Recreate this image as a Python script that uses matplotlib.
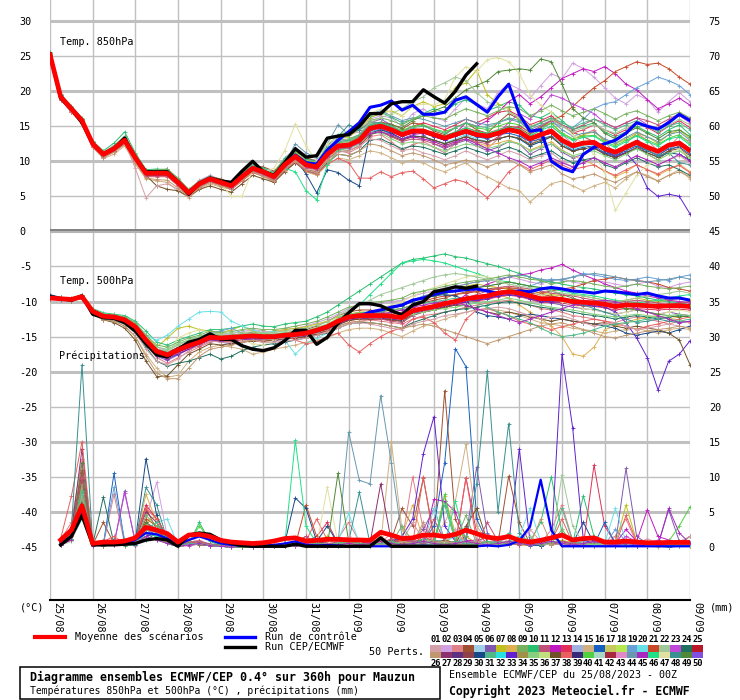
import numpy as np
import matplotlib
matplotlib.use('Agg')
import matplotlib.pyplot as plt
from matplotlib import transforms
from matplotlib.lines import Line2D
from matplotlib.patches import Rectangle

plt.rcParams['font.family'] = ['DejaVu Sans Mono']
plt.rcParams['axes.unicode_minus'] = False

W, H = 740, 700

HOURS = list(range(0, 361, 6))
PRECIP_HOURS = HOURS[1:]
DAY_TICKS = list(range(0, 361, 24))
DATE_LABELS = ["25/08", "26/08", "27/08", "28/08", "29/08", "30/08", "31/08", "01/09",
               "02/09", "03/09", "04/09", "05/09", "06/09", "07/09", "08/09", "09/09"]

PERT_COLORS = [
    '#d4a0a8', '#d0a0e0', '#e08088', '#a05030', '#a0d0e8', '#8058b0', '#c0c020', '#e0b050', '#78b060', '#28c070',
    '#c05078', '#c018c0', '#e03058', '#a0b0e0', '#d0b080', '#1860c0', '#c8c860', '#b8e850', '#68a0d8', '#68e0e8',
    '#c84828', '#a0c898', '#c048d8', '#207060', '#b81828',
    '#c09870', '#8c3070', '#603080', '#904048', '#184888', '#50b888', '#28e0e0', '#6020d0', '#a09048', '#88d080',
    '#c0e080', '#705028', '#e86060', '#382878', '#50d040', '#a8d8c8', '#a82840', '#e088c8', '#6898b0', '#a828c0',
    '#20e088', '#e0e0a0', '#389090', '#508838', '#8050e0']

# perturbations drawn (subset of the 50)
MEMBER_IDS = [2, 3, 4, 6, 7, 8, 10, 12, 13, 15, 16, 19, 20, 21, 23, 24, 27, 30, 33, 37, 38, 40, 44, 46, 47, 48, 49,
              1, 9, 11, 22, 26, 31, 35, 45]

# --- temperature 850 hPa (degC), 6-hourly ---
T850_MEAN = [25.2, 19.2, 17.5, 15.8, 12.5, 11.0, 11.8, 13.0, 10.5, 8.3,
             8.3, 8.3, 7.0, 5.5, 6.8, 7.5, 7.0, 6.5, 7.8, 9.0,
             8.5, 7.8, 9.5, 10.7, 9.5, 9.2, 11.0, 12.2, 12.3, 13.0,
             14.7, 15.0, 14.5, 13.8, 14.3, 14.3, 13.8, 13.3, 13.8, 14.3,
             13.8, 13.6, 14.0, 14.5, 14.2, 13.2, 13.8, 14.3, 13.0, 12.2,
             12.6, 12.7, 11.8, 11.3, 12.0, 12.7, 12.0, 11.4, 12.3, 12.6, 11.5]
T850_CONTROL = [25.3, 19.1, 17.4, 15.8, 12.5, 11.0, 11.8, 13.0, 10.5, 8.4,
                8.4, 8.4, 7.1, 5.6, 6.9, 7.6, 7.1, 6.6, 7.9, 9.1,
                8.6, 7.9, 9.6, 10.9, 9.8, 9.6, 11.6, 13.0, 14.2, 15.5,
                17.7, 18.0, 18.6, 17.3, 18.0, 16.7, 16.7, 17.0, 18.7, 19.2,
                18.1, 17.0, 19.2, 21.0, 16.7, 14.3, 14.5, 10.0, 9.0, 8.5,
                11.0, 12.0, 12.5, 13.0, 14.0, 15.5, 15.0, 14.6, 15.5, 16.7, 15.8]
T850_CEP = [25.3, 19.0, 17.5, 15.5, 12.5, 11.0, 11.8, 13.3, 10.5, 8.5,
            8.5, 8.5, 7.0, 5.3, 6.8, 7.6, 7.2, 7.0, 8.6, 10.0,
            8.5, 8.0, 9.8, 11.8, 10.6, 10.8, 13.3, 13.6, 13.8, 15.0,
            16.8, 16.8, 18.2, 18.5, 18.5, 20.2, 19.2, 18.3, 20.0, 22.3, 23.9]
T850 = [
    [25.5, 19.5, 17.8, 16.0, 12.8, 11.2, 12.3, 13.5, 10.8, 8.6, 8.8, 8.5, 7.2, 5.8, 7.3, 8.0, 7.4, 7.0, 8.5, 9.6,
     9.0, 8.3, 10.5, 11.8, 10.4, 10.2, 12.0, 13.5, 13.8, 14.2, 16.0, 16.5, 16.2, 15.0, 16.8, 17.5, 16.2, 15.8, 17.5, 19.0,
     18.2, 17.5, 19.8, 21.0, 20.3, 19.0, 20.8, 22.5, 21.8, 24.0, 23.2, 22.0, 20.5, 19.0, 18.2, 19.5, 18.8, 17.0, 18.5, 19.8, 18.5],
    [25.0, 18.9, 17.2, 15.5, 12.2, 10.6, 11.4, 12.8, 10.2, 8.0, 8.0, 8.1, 6.8, 5.3, 6.5, 7.3, 6.8, 6.2, 7.5, 8.8,
     8.0, 7.2, 9.0, 10.0, 8.6, 8.3, 10.3, 11.5, 11.2, 12.0, 13.5, 13.8, 12.8, 11.5, 12.4, 12.8, 12.0, 11.2, 12.5, 13.8,
     12.5, 11.8, 13.2, 14.8, 14.0, 12.2, 13.5, 15.0, 13.8, 12.5, 13.8, 14.5, 12.8, 11.0, 12.5, 14.0, 13.0, 11.5, 12.0, 13.6, 12.8],
    [25.4, 19.3, 17.6, 16.0, 12.7, 11.3, 12.0, 13.2, 10.6, 8.5, 8.6, 8.9, 7.5, 5.9, 7.0, 7.8, 7.5, 6.9, 8.2, 9.4,
     9.2, 8.6, 10.2, 11.4, 10.5, 10.0, 11.5, 12.6, 12.8, 13.6, 15.2, 15.6, 15.3, 14.6, 15.5, 15.2, 14.3, 13.8, 14.8, 15.5,
     14.5, 14.0, 15.5, 16.8, 16.0, 14.8, 15.5, 16.2, 15.0, 14.2, 13.5, 12.8, 11.5, 10.6, 11.8, 12.5, 11.0, 10.2, 11.5, 12.2, 10.0],
    [25.1, 19.0, 17.4, 15.9, 12.6, 10.9, 11.6, 12.9, 10.4, 8.4, 8.2, 8.0, 6.8, 5.6, 6.6, 7.2, 6.9, 6.6, 8.0, 9.2,
     8.6, 7.9, 9.8, 11.0, 9.8, 9.6, 11.6, 12.8, 13.0, 13.5, 15.5, 16.0, 15.2, 14.0, 14.5, 13.8, 12.5, 11.8, 12.5, 13.0,
     12.2, 11.5, 12.0, 12.8, 12.5, 11.0, 11.8, 12.5, 11.3, 10.5, 11.0, 11.8, 11.2, 10.5, 11.3, 12.0, 11.5, 10.8, 11.8, 12.5, 11.8],
    [25.3, 19.4, 17.7, 15.8, 12.4, 11.1, 11.9, 13.1, 10.6, 8.2, 8.4, 8.6, 7.1, 5.4, 6.9, 7.8, 7.3, 6.7, 8.1, 9.3,
     8.8, 8.0, 10.0, 11.3, 10.2, 9.8, 11.8, 13.2, 13.5, 14.5, 16.2, 16.8, 17.2, 16.5, 17.8, 18.5, 17.8, 18.2, 20.5, 21.2,
     23.0, 19.5, 18.2, 17.5, 15.8, 14.2, 14.8, 15.5, 14.0, 13.2, 13.8, 14.2, 13.0, 12.5, 13.2, 14.0, 13.5, 12.6, 13.8, 14.5, 13.2],
    [25.2, 19.1, 17.3, 15.6, 12.3, 10.8, 11.5, 12.7, 10.2, 8.1, 8.1, 8.2, 6.9, 5.4, 6.6, 7.4, 6.8, 6.4, 7.6, 8.8,
     8.3, 7.6, 9.2, 10.4, 9.2, 8.8, 10.5, 11.6, 11.8, 12.4, 14.0, 14.3, 13.6, 13.0, 13.5, 13.2, 12.8, 12.2, 12.8, 13.2,
     12.6, 12.2, 12.6, 13.0, 12.5, 11.6, 12.2, 12.8, 11.6, 10.8, 10.2, 9.5, 8.6, 7.8, 8.5, 9.5, 8.8, 8.0, 8.8, 9.6, 8.5],
    [25.6, 19.6, 17.9, 16.2, 12.9, 11.5, 12.6, 14.2, 11.2, 8.8, 8.9, 8.8, 7.4, 5.8, 7.1, 7.9, 7.3, 6.8, 8.3, 9.5,
     9.0, 8.4, 10.4, 11.6, 10.3, 10.0, 12.2, 13.8, 14.2, 15.0, 16.5, 17.0, 16.3, 15.5, 16.0, 16.8, 17.5, 17.0, 18.2, 18.8,
     18.0, 17.2, 17.8, 18.5, 18.0, 16.5, 16.2, 17.0, 15.8, 14.5, 15.0, 15.5, 14.2, 13.5, 14.2, 15.0, 14.2, 13.5, 14.5, 15.2, 13.8],
    [25.1, 18.8, 17.0, 15.4, 12.0, 10.5, 11.4, 12.6, 10.0, 7.9, 8.0, 8.0, 6.6, 5.2, 6.4, 7.1, 6.7, 6.2, 7.5, 8.7,
     8.2, 7.5, 9.2, 10.5, 9.2, 8.9, 10.8, 12.0, 12.1, 12.8, 14.2, 14.6, 14.0, 13.2, 13.8, 14.0, 13.5, 13.0, 14.0, 15.5,
     15.0, 15.8, 17.0, 18.5, 19.5, 18.2, 19.2, 20.5, 21.8, 22.5, 23.2, 22.8, 23.5, 22.5, 21.0, 20.2, 18.8, 17.5, 18.2, 19.0, 18.0],
    [25.3, 19.2, 17.6, 15.9, 12.6, 11.1, 11.9, 13.0, 10.6, 8.4, 8.4, 8.4, 7.1, 5.6, 6.9, 7.6, 7.1, 6.6, 7.9, 9.1,
     8.6, 7.9, 9.6, 10.9, 9.7, 9.4, 11.2, 12.5, 12.7, 13.4, 15.0, 15.3, 14.8, 14.2, 15.0, 15.5, 15.0, 14.5, 15.2, 16.0,
     15.5, 16.2, 17.0, 17.2, 16.5, 15.2, 15.8, 16.5, 15.2, 14.0, 14.5, 15.2, 14.5, 13.8, 14.5, 15.5, 14.8, 14.0, 15.0, 15.8, 14.8],
    [25.0, 18.8, 17.0, 15.3, 12.0, 10.4, 11.0, 12.2, 9.6, 7.5, 7.2, 7.0, 5.8, 4.8, 6.0, 6.8, 6.3, 6.0, 7.2, 8.4,
     7.8, 7.0, 8.6, 9.8, 8.5, 8.0, 9.5, 10.5, 10.2, 10.8, 11.5, 11.2, 10.5, 9.8, 10.2, 9.8, 9.0, 8.5, 9.2, 9.8,
     8.5, 7.8, 7.0, 6.2, 5.8, 4.2, 5.5, 6.8, 7.2, 6.5, 5.8, 6.5, 7.0, 6.2, 7.5, 8.5, 8.0, 7.2, 8.0, 8.8, 7.5],
    [25.2, 19.0, 17.4, 15.7, 12.4, 10.9, 11.7, 12.9, 10.4, 8.2, 8.2, 8.3, 7.0, 5.5, 6.7, 7.5, 7.0, 6.5, 7.7, 8.9,
     8.4, 7.7, 9.4, 10.6, 9.4, 9.0, 10.8, 12.0, 12.0, 12.6, 14.4, 14.8, 14.2, 13.6, 14.0, 14.2, 13.5, 13.0, 13.6, 14.0,
     13.5, 13.2, 13.8, 14.0, 13.6, 12.8, 13.2, 13.6, 12.5, 11.6, 12.0, 12.2, 11.2, 10.8, 11.5, 12.2, 11.5, 10.9, 11.8, 12.0, 11.0],
    [25.4, 19.4, 17.7, 16.0, 12.7, 11.2, 12.0, 13.3, 10.8, 8.5, 8.5, 8.5, 7.2, 5.7, 7.0, 7.7, 7.2, 6.7, 8.0, 9.2,
     8.7, 8.0, 9.7, 10.9, 9.7, 9.4, 11.2, 12.4, 12.5, 13.2, 14.8, 15.2, 14.6, 14.0, 14.5, 14.4, 13.8, 13.4, 13.9, 14.5,
     14.0, 13.8, 14.2, 14.8, 14.5, 13.6, 14.5, 15.5, 15.0, 14.8, 16.0, 17.5, 18.2, 18.5, 19.5, 20.5, 21.2, 22.0, 21.5, 20.8, 19.5],
    [25.2, 19.2, 17.5, 15.9, 12.6, 11.1, 11.8, 13.0, 10.5, 8.3, 8.3, 8.4, 7.0, 5.5, 6.8, 7.6, 7.1, 6.6, 7.9, 9.1,
     8.6, 7.8, 9.4, 10.6, 9.4, 9.0, 10.6, 11.8, 11.8, 12.5, 14.2, 14.5, 13.8, 13.2, 13.6, 13.5, 13.0, 12.6, 13.2, 13.8,
     13.2, 12.8, 13.2, 13.6, 13.2, 12.2, 12.8, 13.5, 12.5, 11.8, 12.2, 12.5, 11.5, 11.0, 11.8, 12.5, 11.8, 11.2, 12.0, 12.5, 11.6],
    [25.3, 19.3, 17.6, 15.9, 12.6, 11.1, 11.9, 13.1, 10.6, 8.4, 8.4, 8.3, 7.0, 5.5, 6.8, 7.5, 7.0, 6.6, 7.9, 9.1,
     8.6, 7.9, 9.6, 10.8, 9.6, 9.3, 11.1, 12.3, 12.4, 13.1, 14.8, 15.2, 14.7, 14.0, 14.6, 14.6, 14.0, 13.6, 14.2, 14.8,
     14.3, 14.0, 14.5, 15.0, 14.8, 13.8, 14.8, 15.8, 16.5, 17.8, 19.2, 20.5, 21.5, 22.8, 23.5, 24.2, 23.8, 24.0, 23.2, 22.0, 21.0],
    [25.1, 19.1, 17.4, 15.7, 12.4, 10.9, 11.7, 12.9, 10.4, 8.2, 8.2, 8.2, 6.9, 5.4, 6.7, 7.4, 6.9, 6.4, 7.7, 8.9,
     8.4, 7.7, 9.4, 10.6, 9.4, 9.1, 10.9, 12.1, 12.2, 12.9, 14.6, 14.9, 14.4, 13.7, 14.2, 14.2, 13.7, 13.2, 13.7, 14.2,
     13.7, 13.5, 14.0, 15.5, 16.8, 16.0, 17.5, 19.5, 19.0, 18.2, 17.5, 16.8, 15.5, 14.8, 15.5, 16.2, 15.2, 14.5, 15.8, 16.5, 15.5],
    [25.0, 18.9, 17.2, 15.6, 12.3, 10.7, 11.5, 12.7, 10.2, 8.0, 8.0, 8.0, 6.7, 5.3, 6.5, 7.2, 6.7, 6.2, 7.4, 8.6,
     8.0, 7.2, 8.8, 9.8, 8.6, 8.2, 9.8, 11.0, 10.8, 11.5, 13.0, 13.2, 12.5, 11.8, 12.2, 12.0, 11.5, 11.0, 11.5, 12.0,
     11.5, 11.0, 11.5, 12.0, 11.5, 10.5, 11.0, 11.5, 10.5, 9.8, 10.2, 10.5, 9.5, 9.0, 9.8, 10.5, 9.8, 9.2, 9.5, 8.8, 8.0],
    [25.3, 19.3, 17.6, 15.9, 12.6, 11.1, 11.9, 13.1, 10.6, 8.4, 8.5, 8.5, 7.2, 5.7, 7.0, 7.7, 7.2, 6.7, 8.0, 9.2,
     8.7, 8.0, 9.7, 10.9, 9.7, 9.4, 11.2, 12.4, 12.5, 13.2, 14.9, 15.2, 14.7, 14.0, 14.5, 14.5, 14.0, 13.5, 14.0, 14.5,
     14.0, 13.8, 14.2, 14.8, 14.4, 13.4, 14.0, 14.5, 13.2, 12.4, 12.8, 12.9, 12.0, 11.5, 12.2, 13.0, 12.2, 11.6, 12.5, 12.8, 11.8],
    [25.2, 19.1, 17.4, 15.7, 12.4, 10.9, 11.6, 12.8, 10.3, 8.1, 8.1, 8.1, 6.8, 5.3, 6.6, 7.3, 6.8, 6.3, 7.6, 8.8,
     8.3, 7.6, 9.2, 10.4, 8.2, 5.5, 8.8, 8.4, 7.3, 6.5, 14.0, 14.5, 14.0, 13.2, 13.6, 13.5, 13.0, 12.5, 13.0, 13.5,
     13.0, 12.8, 13.2, 13.6, 13.2, 12.2, 12.8, 13.5, 12.2, 11.5, 11.8, 12.0, 11.0, 10.5, 11.2, 11.8, 11.2, 10.6, 11.2, 11.0, 10.2],
    [25.1, 19.0, 17.3, 15.6, 12.3, 10.8, 11.6, 12.8, 10.3, 8.1, 8.1, 8.1, 6.8, 5.3, 6.6, 7.3, 6.8, 6.3, 7.6, 8.8,
     8.3, 7.6, 9.3, 10.5, 9.3, 9.0, 10.8, 12.0, 12.1, 12.8, 14.5, 14.8, 14.3, 13.6, 14.1, 14.1, 13.6, 13.1, 13.6, 14.1,
     13.6, 13.4, 13.8, 14.3, 14.0, 13.0, 13.6, 14.0, 12.8, 12.0, 12.4, 12.5, 11.5, 10.8, 11.2, 9.5, 6.2, 5.0, 5.3, 5.0, 2.5],
    [25.2, 19.2, 17.5, 15.8, 12.5, 11.0, 11.8, 13.0, 10.5, 8.0, 6.5, 6.0, 5.8, 5.0, 6.0, 6.5, 6.0, 5.6, 6.8, 8.0,
     7.5, 7.0, 8.5, 9.8, 8.8, 8.5, 10.2, 11.4, 11.5, 12.2, 13.8, 14.2, 13.6, 13.0, 13.5, 13.5, 13.0, 12.5, 13.0, 13.5,
     13.0, 12.8, 13.2, 13.6, 13.3, 12.4, 13.0, 13.5, 12.2, 11.4, 11.8, 11.9, 11.0, 10.5, 11.2, 11.9, 11.2, 10.6, 11.5, 11.8, 10.8],
    [25.0, 18.8, 17.1, 15.4, 12.1, 10.6, 11.3, 12.5, 10.0, 7.8, 7.8, 7.8, 6.5, 5.1, 6.3, 7.0, 6.5, 6.0, 7.2, 8.4,
     7.9, 7.2, 8.8, 9.9, 8.6, 8.2, 9.6, 10.4, 9.8, 7.6, 7.6, 8.5, 7.8, 8.4, 8.6, 7.5, 6.2, 6.8, 7.4, 7.0,
     6.0, 4.8, 6.5, 8.5, 9.6, 8.8, 9.5, 10.2, 9.5, 8.8, 9.2, 9.5, 8.6, 8.0, 8.8, 9.5, 8.8, 8.2, 9.0, 9.4, 8.4],
    [25.4, 19.4, 17.7, 16.0, 12.7, 11.2, 12.0, 13.3, 10.7, 8.5, 8.6, 8.6, 7.2, 5.7, 7.0, 7.7, 7.2, 6.7, 8.0, 9.2,
     8.8, 8.1, 9.8, 11.0, 9.8, 9.5, 11.4, 12.6, 12.8, 13.5, 15.0, 15.4, 15.0, 14.4, 15.0, 15.2, 14.6, 14.2, 14.8, 15.4,
     14.8, 14.5, 15.0, 15.5, 15.2, 14.0, 14.8, 15.4, 14.0, 13.2, 13.6, 13.7, 12.8, 12.2, 13.0, 13.7, 13.0, 12.4, 13.3, 13.8, 12.5],
    [25.2, 19.1, 17.4, 15.8, 12.5, 11.0, 11.8, 13.0, 10.4, 8.3, 8.3, 8.3, 7.0, 5.5, 6.8, 7.5, 7.0, 6.5, 7.8, 9.0,
     8.5, 7.8, 9.6, 12.5, 11.2, 10.5, 12.5, 15.2, 13.8, 14.5, 16.8, 17.2, 16.5, 15.8, 16.2, 16.0, 15.5, 15.0, 15.5, 16.0,
     15.5, 15.2, 15.5, 16.0, 15.6, 14.5, 15.2, 15.8, 14.5, 13.6, 14.0, 14.2, 13.2, 12.6, 13.4, 14.2, 13.5, 12.8, 13.8, 14.2, 13.0],
    [25.3, 19.3, 17.6, 15.9, 12.6, 11.1, 11.9, 13.1, 10.6, 8.4, 8.4, 8.4, 7.1, 5.6, 6.9, 7.6, 7.1, 6.6, 7.9, 9.1,
     8.6, 7.9, 9.0, 8.5, 5.8, 4.5, 9.5, 11.5, 12.0, 12.8, 14.6, 14.9, 14.4, 13.8, 14.4, 14.5, 14.0, 13.6, 14.2, 14.8,
     14.2, 14.0, 14.4, 14.9, 14.6, 13.6, 14.4, 15.0, 13.8, 13.0, 13.4, 13.6, 12.6, 12.0, 12.8, 13.6, 12.8, 12.2, 13.2, 13.5, 12.3],
    [25.1, 19.0, 17.3, 15.7, 12.4, 10.9, 11.7, 12.9, 10.4, 8.2, 8.2, 8.2, 6.9, 5.4, 6.7, 7.4, 6.9, 5.0, 5.0, 8.8,
     8.4, 9.0, 11.5, 15.3, 12.2, 10.0, 12.5, 13.5, 14.5, 15.2, 16.8, 17.5, 17.0, 16.5, 17.8, 18.2, 18.0, 18.8, 22.0, 23.5,
     22.8, 24.5, 24.8, 24.2, 22.5, 19.5, 18.0, 17.0, 15.2, 13.8, 12.5, 11.0, 8.5, 3.0, 5.5, 8.0, 9.5, 10.2, 11.0, 11.8, 10.5],
    [25.2, 19.2, 17.5, 15.8, 12.5, 11.0, 11.8, 13.0, 10.5, 8.3, 8.3, 8.3, 7.0, 5.5, 6.8, 7.5, 7.0, 6.5, 7.8, 9.0,
     8.5, 7.8, 9.5, 10.7, 9.5, 9.2, 11.0, 13.5, 15.2, 14.5, 15.5, 15.5, 14.8, 14.0, 14.5, 14.5, 14.0, 13.5, 14.0, 14.5,
     14.0, 13.8, 14.2, 14.7, 14.3, 13.3, 13.9, 14.4, 13.1, 12.3, 12.6, 12.8, 11.8, 11.0, 11.8, 12.4, 11.6, 10.8, 11.2, 9.8, 9.5],
    [25.4, 19.4, 17.7, 16.0, 12.7, 11.2, 12.0, 13.2, 10.7, 8.5, 8.5, 8.6, 7.2, 5.7, 7.0, 7.7, 7.2, 6.7, 8.0, 9.2,
     8.7, 8.0, 9.7, 10.9, 9.7, 9.4, 11.2, 12.4, 12.5, 13.2, 15.0, 15.5, 15.2, 14.8, 15.8, 16.5, 17.2, 17.8, 19.0, 20.2,
     20.8, 21.5, 22.8, 23.0, 23.2, 23.0, 24.6, 24.2, 21.0, 17.5, 16.2, 15.5, 14.0, 13.2, 14.0, 14.8, 14.0, 13.2, 14.2, 14.5, 13.5],
    # m01, m09, m11, m22, m26, m31, m35, m45
    [25.3, 19.2, 17.4, 15.6, 12.3, 10.8, 11.6, 12.7, 9.0, 4.8, 6.5, 6.8, 6.0, 5.2, 6.4, 7.2, 6.8, 6.2, 7.5, 8.6,
     8.0, 7.4, 9.0, 10.2, 9.0, 8.6, 10.2, 11.3, 11.5, 12.2, 13.2, 13.0, 12.2, 11.5, 11.8, 11.2, 10.8, 10.2, 10.8, 11.5,
     10.8, 10.2, 10.8, 11.5, 11.0, 10.2, 10.8, 11.2, 10.0, 9.2, 9.8, 10.5, 9.8, 9.2, 10.0, 10.8, 10.2, 9.5, 10.2, 10.8, 9.8],
    [25.2, 19.3, 17.6, 16.0, 12.8, 11.3, 12.2, 13.6, 11.0, 8.6, 8.8, 8.9, 7.6, 6.0, 7.2, 7.8, 7.2, 6.8, 8.2, 9.4,
     8.8, 8.2, 10.0, 11.2, 10.0, 9.8, 11.8, 13.0, 13.2, 13.8, 15.8, 16.2, 15.8, 15.2, 16.0, 16.5, 16.2, 16.0, 16.8, 17.5,
     17.0, 16.5, 17.2, 17.8, 17.5, 16.5, 17.2, 18.0, 17.2, 16.5, 17.0, 17.5, 16.8, 16.0, 16.8, 17.2, 16.5, 15.8, 16.5, 17.0, 16.2],
    [25.1, 19.0, 17.3, 15.6, 12.2, 10.7, 11.4, 12.6, 10.1, 7.9, 7.9, 7.9, 6.6, 5.1, 6.4, 7.1, 6.6, 6.1, 7.4, 8.6,
     8.1, 7.4, 9.1, 10.3, 9.1, 8.8, 10.6, 11.8, 11.9, 12.6, 14.0, 14.2, 13.5, 12.8, 13.2, 13.0, 12.5, 12.0, 12.6, 13.2,
     12.8, 12.5, 13.5, 14.5, 15.0, 14.2, 15.0, 15.8, 15.2, 14.5, 15.2, 16.0, 15.5, 14.8, 15.5, 16.2, 15.8, 15.2, 16.0, 16.8, 16.0],
    [25.3, 19.3, 17.6, 15.9, 12.6, 11.1, 11.9, 13.1, 10.6, 8.4, 8.4, 8.4, 7.1, 5.6, 6.9, 7.6, 7.1, 6.6, 7.9, 9.1,
     8.6, 7.9, 9.6, 10.8, 9.6, 9.3, 11.2, 12.5, 12.8, 13.8, 15.5, 16.2, 16.8, 17.5, 18.5, 19.2, 20.5, 21.2, 22.0, 21.5,
     19.8, 18.5, 17.8, 17.0, 16.2, 15.0, 15.5, 16.0, 15.0, 14.2, 14.8, 15.2, 14.5, 14.0, 14.8, 15.5, 15.0, 14.5, 15.2, 16.0, 15.2],
    [25.1, 18.9, 17.2, 15.5, 12.2, 10.6, 11.3, 12.4, 9.8, 7.6, 7.4, 7.3, 6.2, 5.0, 6.2, 7.0, 6.5, 6.1, 7.3, 8.5,
     7.9, 7.2, 8.8, 10.0, 8.8, 8.4, 10.0, 11.0, 10.8, 11.5, 12.5, 12.2, 11.5, 10.8, 11.2, 10.8, 10.2, 9.5, 9.8, 10.2,
     9.8, 9.2, 9.8, 10.2, 9.5, 8.5, 9.0, 9.5, 8.2, 7.5, 7.8, 8.2, 7.5, 7.0, 7.8, 8.5, 7.8, 7.2, 8.0, 8.5, 7.8],
    [25.4, 19.4, 17.7, 16.1, 12.8, 11.3, 12.1, 13.4, 10.9, 8.7, 8.7, 8.7, 7.3, 5.8, 7.1, 7.8, 7.3, 6.8, 8.1, 9.3,
     8.8, 8.1, 9.9, 11.1, 9.9, 9.6, 11.4, 12.8, 13.0, 13.8, 15.2, 15.5, 15.0, 14.2, 14.8, 15.0, 14.5, 14.0, 14.8, 15.5,
     15.0, 14.8, 15.5, 16.2, 15.8, 14.8, 15.5, 16.2, 15.5, 14.8, 15.5, 16.0, 15.2, 14.5, 15.2, 15.8, 15.0, 14.2, 15.0, 15.5, 14.5],
    [25.2, 19.2, 17.5, 15.8, 12.5, 11.0, 11.8, 13.0, 10.5, 8.3, 8.3, 8.3, 7.0, 5.5, 6.8, 7.5, 7.0, 6.5, 7.8, 9.0,
     8.5, 7.8, 9.5, 10.7, 9.5, 9.2, 11.0, 12.2, 12.3, 13.0, 14.2, 14.0, 13.2, 12.5, 12.8, 12.5, 12.0, 11.5, 12.0, 12.5,
     12.2, 11.8, 12.2, 12.8, 12.5, 11.5, 12.0, 12.5, 11.5, 10.8, 11.2, 11.5, 10.8, 10.2, 11.0, 11.8, 11.0, 10.2, 11.0, 11.5, 10.5],
    [25.2, 19.1, 17.4, 15.7, 12.4, 10.9, 11.7, 12.9, 10.4, 8.2, 8.2, 8.2, 6.9, 5.4, 6.7, 7.4, 6.9, 6.4, 7.7, 8.9,
     8.4, 7.7, 9.4, 10.6, 9.4, 9.1, 10.9, 12.1, 12.2, 12.9, 14.0, 14.2, 13.8, 13.2, 13.5, 13.2, 12.8, 12.2, 12.8, 13.2,
     12.5, 11.8, 11.2, 10.5, 10.0, 9.2, 9.8, 10.5, 9.8, 9.2, 9.8, 10.5, 9.8, 9.2, 10.0, 10.8, 10.2, 9.5, 10.2, 11.0, 10.0],
]

# --- temperature 500 hPa (degC) ---
T500_MEAN = [-9.5, -9.6, -9.7, -9.3, -11.4, -12.1, -12.2, -12.6, -13.6, -15.5,
             -17.1, -17.6, -16.9, -16.3, -15.8, -15.1, -15.2, -15.1, -15.0, -14.9,
             -15.0, -15.0, -14.8, -14.7, -14.5, -14.1, -13.6, -12.8, -12.2, -12.0,
             -12.0, -12.0, -12.1, -12.3, -11.3, -11.0, -10.7, -10.3, -10.0, -9.6,
             -9.4, -9.2, -8.8, -8.6, -8.8, -9.2, -9.6, -9.6, -9.7, -10.0,
             -10.1, -10.2, -10.4, -10.7, -10.5, -10.5, -10.6, -10.7, -10.6, -10.6, -10.7]
T500_CONTROL = [-9.5, -9.6, -9.7, -9.3, -11.5, -12.2, -12.3, -12.7, -13.8, -15.6,
                -17.2, -17.7, -17.0, -16.4, -15.9, -15.2, -15.3, -15.2, -15.1, -15.0,
                -15.1, -15.1, -14.9, -14.8, -14.6, -14.2, -13.7, -12.9, -12.3, -12.1,
                -11.5, -11.2, -10.8, -10.5, -9.8, -9.5, -9.0, -8.6, -8.5, -8.3,
                -8.2, -8.5, -8.8, -8.6, -8.5, -8.6, -8.2, -8.0, -8.2, -8.5,
                -8.6, -8.8, -8.5, -8.6, -8.8, -9.0, -8.8, -9.2, -9.5, -9.5, -9.8]
T500_CEP = [-9.3, -9.6, -9.8, -9.2, -11.8, -12.3, -12.4, -13.0, -14.2, -16.0,
            -17.6, -17.9, -16.8, -15.8, -15.4, -14.6, -15.4, -15.4, -16.3, -16.8,
            -17.0, -16.6, -15.6, -14.1, -14.1, -16.1, -15.1, -13.1, -11.6, -10.3,
            -10.3, -10.6, -11.3, -11.9, -10.5, -10.0, -8.6, -8.3, -7.9, -8.1, -7.8]
T500 = [
    [-9.4, -9.6, -9.6, -9.1, -11.2, -12.0, -12.0, -12.4, -13.2, -15.0, -16.5, -17.0, -16.2, -15.5, -15.0, -14.5, -14.8, -14.6, -14.3, -14.0,
     -14.2, -14.5, -14.0, -13.8, -13.5, -13.0, -12.5, -11.8, -11.0, -10.5, -10.5, -10.2, -10.0, -9.8, -9.2, -8.8, -8.5, -8.0, -7.8, -7.5,
     -7.2, -7.0, -6.8, -6.5, -6.8, -7.2, -7.5, -7.0, -6.8, -7.2, -7.5, -7.0, -7.2, -7.5, -7.8, -7.5, -7.2, -7.8, -8.0, -7.5, -7.2],
    [-9.6, -9.7, -9.8, -9.4, -11.6, -12.3, -12.5, -13.0, -14.2, -16.2, -18.0, -18.8, -18.0, -17.2, -16.5, -15.8, -15.5, -15.8, -15.5, -15.6,
     -15.8, -15.5, -15.2, -15.3, -15.0, -14.8, -14.2, -13.5, -13.0, -12.8, -12.6, -12.8, -13.0, -13.2, -12.5, -12.0, -11.8, -11.5, -11.2, -10.8,
     -10.5, -10.2, -10.0, -9.8, -10.2, -10.5, -11.0, -11.2, -11.5, -12.0, -12.2, -12.5, -12.8, -13.0, -12.5, -12.2, -12.5, -12.8, -13.2, -12.8, -13.0],
    [-9.5, -9.5, -9.6, -9.2, -11.3, -12.0, -12.1, -12.4, -13.4, -15.2, -16.8, -17.3, -16.5, -16.0, -15.5, -15.0, -15.0, -14.8, -14.6, -14.4,
     -14.6, -14.7, -14.5, -14.2, -14.0, -13.5, -12.8, -12.0, -11.5, -11.2, -11.2, -11.5, -11.8, -11.5, -10.8, -10.2, -9.8, -9.5, -9.0, -8.6,
     -8.5, -8.2, -8.0, -8.2, -8.5, -8.8, -9.0, -9.2, -9.5, -9.8, -10.0, -10.2, -10.5, -10.8, -10.5, -10.2, -10.5, -10.8, -10.5, -10.2, -10.5],
    [-9.5, -9.7, -9.8, -9.4, -11.5, -12.2, -12.3, -12.8, -14.0, -16.0, -17.8, -18.4, -17.6, -16.8, -16.0, -15.5, -15.8, -16.0, -15.8, -15.6,
     -15.5, -15.6, -15.4, -15.2, -15.0, -14.6, -14.0, -13.2, -12.6, -12.4, -12.5, -12.4, -12.6, -12.8, -11.8, -11.5, -11.2, -10.8, -10.5, -10.0,
     -9.8, -9.5, -9.2, -9.0, -9.2, -9.5, -10.0, -10.2, -10.5, -10.8, -11.0, -11.2, -11.5, -11.8, -11.5, -11.2, -11.5, -11.8, -11.5, -11.8, -12.0],
    [-9.4, -9.5, -9.6, -9.0, -11.2, -11.8, -12.0, -12.3, -13.2, -14.8, -16.5, -15.2, -13.8, -13.5, -14.0, -14.2, -14.5, -14.0, -13.5, -14.2,
     -14.5, -14.2, -14.0, -13.8, -13.6, -13.2, -12.8, -12.2, -11.8, -11.5, -11.5, -11.2, -11.0, -10.5, -9.8, -9.5, -9.0, -8.5, -8.0, -7.8,
     -7.5, -7.8, -8.0, -8.2, -8.0, -8.5, -8.8, -9.0, -9.2, -9.0, -9.2, -9.5, -9.8, -10.0, -9.8, -9.5, -9.8, -10.0, -9.8, -9.5, -9.8],
    [-9.6, -9.6, -9.7, -9.4, -11.5, -12.2, -12.3, -12.7, -13.8, -15.8, -17.4, -17.9, -17.2, -16.5, -16.0, -15.4, -15.4, -15.3, -15.2, -15.1,
     -15.2, -15.2, -15.0, -14.9, -14.7, -14.3, -13.8, -13.0, -12.4, -12.2, -12.2, -12.2, -12.3, -12.5, -11.5, -11.2, -10.9, -10.5, -10.2, -9.8,
     -9.6, -9.4, -9.0, -9.5, -10.5, -11.5, -12.5, -13.5, -15.0, -17.5, -17.8, -16.5, -14.0, -13.5, -13.0, -12.5, -12.2, -12.0, -12.5, -12.2, -12.0],
    [-9.3, -9.4, -9.5, -9.0, -11.0, -11.6, -11.8, -12.0, -12.8, -14.2, -15.8, -16.2, -15.5, -15.0, -14.5, -14.0, -14.0, -13.8, -13.5, -13.2,
     -13.5, -13.6, -13.2, -13.0, -12.8, -12.2, -11.5, -10.5, -9.5, -8.5, -7.5, -6.5, -5.5, -4.5, -4.0, -3.8, -3.5, -3.2, -3.6, -3.8,
     -4.2, -4.6, -5.0, -5.5, -6.0, -6.5, -7.0, -7.2, -7.5, -7.8, -8.0, -8.2, -8.5, -8.8, -9.0, -9.2, -9.5, -9.8, -10.0, -10.2, -10.5],
    [-9.5, -9.6, -9.7, -9.3, -11.4, -12.1, -12.2, -12.6, -13.6, -15.5, -17.2, -17.8, -17.0, -16.4, -15.9, -15.2, -15.3, -15.2, -15.1, -15.0,
     -15.1, -15.1, -14.9, -14.8, -14.6, -14.2, -13.7, -12.9, -12.3, -12.1, -12.1, -12.1, -12.2, -12.4, -11.4, -11.1, -10.8, -10.4, -10.1, -9.0,
     -8.2, -7.5, -7.0, -6.5, -6.2, -6.0, -5.5, -5.2, -4.7, -5.5, -6.2, -6.8, -7.5, -8.0, -8.5, -8.8, -9.2, -9.5, -9.8, -10.0, -10.2],
    [-9.5, -9.6, -9.8, -9.4, -11.6, -12.3, -12.4, -12.8, -13.9, -15.8, -17.5, -18.0, -17.4, -16.8, -16.3, -15.6, -15.7, -15.6, -15.5, -15.4,
     -15.5, -15.5, -15.3, -15.2, -15.0, -14.6, -14.1, -13.3, -12.7, -12.5, -12.5, -12.5, -12.6, -12.8, -11.8, -11.5, -11.2, -10.8, -10.5, -10.1,
     -9.9, -9.7, -9.3, -9.1, -9.3, -9.7, -10.1, -10.1, -10.2, -10.5, -10.6, -10.7, -10.9, -11.2, -11.0, -11.0, -11.1, -11.2, -11.1, -11.1, -11.2],
    [-9.6, -9.8, -9.9, -9.5, -11.8, -12.5, -12.8, -13.5, -15.0, -17.5, -19.5, -20.8, -20.5, -18.5, -17.2, -16.5, -16.2, -16.5, -16.8, -17.5,
     -17.2, -16.8, -16.5, -16.2, -15.8, -15.5, -15.2, -14.5, -14.0, -13.8, -13.8, -14.0, -14.5, -15.0, -14.2, -13.5, -13.0, -12.5, -12.0, -11.5,
     -11.2, -11.0, -11.2, -11.5, -12.0, -12.5, -13.0, -13.2, -13.5, -13.8, -14.0, -14.2, -14.5, -14.2, -14.0, -13.8, -14.2, -14.5, -14.0, -13.8, -14.0],
    [-9.5, -9.6, -9.7, -9.3, -11.4, -12.0, -12.1, -12.5, -13.4, -15.2, -16.8, -17.2, -16.6, -16.0, -15.5, -14.9, -15.0, -14.9, -14.8, -14.7,
     -14.8, -14.8, -14.6, -14.5, -14.3, -13.9, -13.4, -12.6, -12.0, -11.8, -11.8, -11.8, -11.9, -12.1, -11.1, -10.8, -10.5, -10.1, -9.8, -9.4,
     -9.2, -9.0, -8.6, -8.4, -8.6, -9.0, -9.4, -9.4, -9.5, -9.8, -9.9, -10.0, -10.2, -10.5, -10.3, -10.3, -10.4, -10.5, -10.4, -10.4, -10.5],
    [-9.4, -9.5, -9.6, -9.2, -11.3, -12.0, -12.1, -12.5, -13.5, -15.4, -17.0, -17.5, -16.8, -16.0, -15.2, -14.5, -14.2, -13.8, -14.5, -15.0,
     -15.2, -15.0, -14.6, -14.5, -14.3, -13.9, -13.5, -12.7, -12.0, -11.6, -11.5, -11.2, -10.8, -10.5, -9.8, -9.5, -9.2, -8.8, -8.5, -8.2,
     -8.0, -7.8, -7.5, -7.2, -7.5, -7.8, -7.2, -6.8, -7.0, -6.5, -6.0, -6.2, -6.5, -6.8, -7.0, -6.8, -6.5, -6.8, -7.0, -6.5, -6.2],
    [-9.4, -9.5, -9.6, -9.2, -11.2, -11.8, -11.9, -12.2, -13.0, -14.8, -15.5, -14.8, -13.5, -12.5, -11.5, -11.4, -11.5, -12.8, -13.5, -14.0,
     -14.5, -14.2, -15.5, -17.5, -16.0, -15.2, -14.5, -13.5, -12.5, -12.0, -12.0, -12.2, -12.5, -12.8, -12.0, -11.5, -11.0, -10.5, -10.2, -9.8,
     -9.6, -9.4, -9.0, -8.8, -9.0, -9.4, -9.8, -9.8, -9.9, -10.2, -10.3, -10.4, -10.6, -10.9, -10.7, -10.7, -10.8, -10.9, -10.8, -10.8, -10.9],
    [-9.5, -9.6, -9.7, -9.3, -11.4, -12.1, -12.2, -12.6, -13.6, -15.4, -17.0, -17.5, -16.9, -16.3, -15.8, -15.1, -15.2, -15.1, -15.0, -14.9,
     -15.0, -15.0, -14.8, -14.7, -14.5, -14.1, -13.6, -12.8, -12.2, -12.0, -11.8, -11.5, -11.2, -11.0, -10.5, -10.0, -9.5, -9.2, -9.0, -8.8,
     -8.6, -8.4, -8.2, -8.0, -8.2, -8.5, -8.8, -8.5, -8.2, -8.0, -7.5, -7.0, -6.8, -6.5, -6.8, -7.0, -7.2, -7.5, -8.0, -8.2, -8.5],
    [-9.5, -9.7, -9.8, -9.3, -11.5, -12.2, -12.3, -12.7, -13.8, -15.7, -17.3, -17.8, -17.1, -16.5, -16.0, -15.3, -15.4, -15.3, -15.2, -15.1,
     -15.2, -15.2, -15.0, -14.9, -14.7, -14.3, -13.8, -13.0, -12.4, -12.2, -12.2, -12.2, -12.3, -12.5, -11.5, -11.2, -10.9, -10.5, -10.2, -9.8,
     -9.6, -9.4, -9.0, -8.8, -9.0, -9.4, -9.8, -9.8, -9.9, -10.2, -10.3, -10.4, -10.6, -10.9, -10.7, -10.7, -10.8, -10.9, -10.8, -10.8, -10.9],
    [-9.6, -9.7, -9.8, -9.5, -11.7, -12.5, -12.7, -13.2, -14.5, -16.5, -18.5, -19.2, -18.8, -18.5, -18.0, -17.5, -18.2, -17.8, -17.0, -16.5,
     -16.2, -16.0, -15.8, -15.5, -15.2, -14.8, -14.5, -13.8, -13.2, -13.0, -13.0, -13.2, -13.5, -13.8, -13.0, -12.5, -12.0, -11.5, -11.2, -11.0,
     -10.8, -10.5, -10.2, -10.0, -10.2, -10.5, -10.8, -11.0, -11.2, -11.5, -11.8, -12.0, -12.2, -12.5, -12.2, -12.0, -12.2, -12.5, -12.2, -12.0, -12.2],
    [-9.5, -9.6, -9.7, -9.3, -11.4, -12.1, -12.2, -12.6, -13.7, -15.6, -17.2, -17.7, -17.0, -16.4, -15.9, -15.2, -15.3, -15.2, -15.1, -15.0,
     -15.1, -15.1, -14.9, -14.8, -14.6, -14.2, -13.7, -12.9, -12.3, -12.1, -12.1, -12.1, -12.2, -12.4, -11.4, -11.1, -10.8, -10.4, -10.1, -9.7,
     -9.5, -9.3, -8.9, -8.7, -8.9, -9.3, -9.7, -9.7, -9.8, -10.1, -10.2, -10.3, -10.5, -10.8, -10.6, -10.6, -10.7, -10.8, -10.7, -10.7, -10.8],
    [-9.0, -9.4, -9.6, -9.2, -11.3, -12.0, -12.1, -12.5, -13.5, -15.3, -16.9, -17.4, -16.7, -16.1, -15.6, -14.9, -15.0, -14.9, -14.8, -14.7,
     -14.8, -14.8, -14.6, -14.5, -14.3, -13.9, -13.4, -12.6, -12.0, -11.8, -11.6, -11.4, -11.0, -10.6, -10.0, -9.4, -9.2, -9.0, -9.2, -9.8,
     -11.5, -12.0, -12.2, -12.5, -12.0, -11.8, -12.0, -12.3, -12.5, -12.8, -13.0, -13.2, -13.5, -13.8, -14.5, -14.8, -14.5, -14.2, -14.5, -14.0, -13.5],
    [-9.5, -9.6, -9.8, -9.4, -11.5, -12.2, -12.4, -12.8, -13.9, -15.9, -17.6, -18.2, -17.5, -16.8, -16.2, -15.5, -15.6, -15.5, -15.4, -15.3,
     -15.4, -15.4, -15.2, -15.1, -14.9, -14.5, -14.0, -13.2, -12.6, -12.4, -12.4, -12.4, -12.5, -12.7, -11.7, -11.4, -11.1, -10.7, -10.4, -10.0,
     -9.8, -9.6, -9.2, -9.0, -9.2, -9.6, -10.0, -10.0, -10.1, -10.4, -10.5, -10.6, -10.8, -11.5, -13.0, -15.2, -18.0, -22.6, -18.5, -17.5, -15.6],
    [-9.6, -9.8, -9.9, -9.6, -11.8, -12.6, -13.0, -13.8, -15.5, -18.5, -20.7, -20.6, -19.0, -17.5, -16.8, -16.0, -16.2, -16.0, -15.8, -15.6,
     -15.6, -15.5, -15.3, -15.2, -15.0, -14.6, -14.1, -13.3, -12.7, -12.5, -12.5, -12.5, -12.6, -12.8, -11.8, -11.5, -11.2, -10.8, -10.5, -10.6,
     -11.0, -11.5, -11.8, -11.5, -11.8, -12.2, -12.5, -12.8, -12.5, -12.8, -13.0, -13.2, -13.0, -13.5, -13.8, -13.5, -13.8, -14.0, -14.5, -15.5, -19.0],
    [-9.5, -9.6, -9.7, -9.3, -11.4, -12.1, -12.2, -12.6, -13.6, -15.5, -17.1, -17.6, -16.9, -16.3, -15.8, -15.1, -15.2, -15.1, -15.0, -14.9,
     -15.0, -15.0, -14.8, -15.5, -16.0, -15.8, -15.0, -14.5, -16.2, -17.2, -16.0, -15.0, -14.2, -13.8, -12.5, -12.2, -13.0, -14.5, -15.5, -12.5,
     -11.2, -11.0, -11.5, -12.0, -12.8, -13.2, -13.5, -14.0, -13.6, -13.2, -12.8, -12.5, -12.8, -13.2, -13.5, -14.0, -13.5, -13.2, -12.8, -12.5, -12.2],
    [-9.4, -9.5, -9.6, -9.2, -11.3, -12.0, -12.1, -12.5, -13.5, -15.3, -16.9, -17.4, -16.7, -16.1, -15.6, -14.9, -15.0, -14.9, -14.8, -14.7,
     -14.8, -14.8, -14.6, -14.5, -14.3, -13.9, -13.4, -12.6, -12.0, -11.8, -11.8, -11.8, -11.9, -12.1, -11.1, -10.8, -10.5, -10.1, -9.8, -9.4,
     -9.2, -9.0, -8.6, -8.4, -8.6, -9.0, -9.4, -9.4, -9.5, -9.8, -9.9, -10.0, -10.2, -10.5, -10.3, -10.3, -10.4, -10.5, -10.4, -10.4, -10.5],
    [-9.5, -9.6, -9.7, -9.3, -11.4, -12.1, -12.2, -12.6, -13.6, -15.5, -17.1, -17.6, -16.9, -16.3, -15.8, -15.1, -15.2, -15.1, -15.0, -14.9,
     -15.0, -15.0, -14.8, -14.7, -14.5, -14.1, -13.6, -12.8, -12.2, -12.0, -12.0, -11.5, -11.0, -10.5, -9.8, -9.2, -8.8, -8.5, -8.0, -7.5,
     -7.2, -7.0, -6.8, -6.5, -6.2, -6.5, -6.8, -7.0, -6.8, -6.5, -6.2, -6.0, -6.2, -6.5, -6.8, -7.0, -7.2, -7.0, -6.8, -6.5, -6.8],
    [-9.5, -9.6, -9.7, -9.3, -11.4, -12.1, -12.2, -12.6, -13.6, -15.4, -17.0, -17.5, -16.8, -16.2, -15.7, -15.0, -15.1, -15.0, -14.9, -14.8,
     -14.9, -14.9, -14.7, -14.6, -14.4, -14.0, -13.5, -12.5, -11.5, -10.5, -9.0, -7.5, -6.0, -4.5, -4.2, -4.0, -4.2, -4.5, -5.0, -5.5,
     -6.0, -6.5, -7.0, -7.2, -7.5, -7.8, -8.0, -8.2, -8.5, -8.8, -9.0, -9.2, -9.5, -9.8, -10.0, -10.2, -10.0, -9.8, -9.5, -9.2, -9.0],
    [-9.5, -9.6, -9.7, -9.3, -11.4, -12.1, -12.2, -12.6, -13.6, -15.5, -17.1, -17.6, -15.2, -14.5, -14.0, -14.5, -15.0, -15.2, -15.5, -16.0,
     -16.2, -15.5, -15.0, -14.5, -14.2, -13.8, -13.4, -12.6, -12.0, -11.8, -11.5, -11.0, -10.5, -10.0, -9.2, -8.5, -8.0, -7.5, -7.0, -6.5,
     -6.2, -6.5, -7.0, -7.5, -8.0, -8.5, -9.0, -9.5, -10.0, -10.5, -11.0, -11.2, -11.5, -11.8, -11.5, -11.2, -11.5, -11.8, -11.5, -11.2, -11.5],
    [-9.5, -9.6, -9.7, -9.3, -11.4, -12.1, -12.2, -12.6, -13.6, -15.5, -17.1, -17.6, -16.9, -16.3, -15.8, -15.1, -15.2, -15.1, -15.0, -14.9,
     -15.0, -15.0, -14.8, -14.7, -14.5, -14.1, -13.6, -12.8, -12.2, -12.0, -12.0, -12.0, -12.1, -12.3, -11.3, -11.0, -10.7, -10.3, -10.0, -9.6,
     -9.4, -9.2, -8.8, -8.6, -8.8, -9.2, -9.6, -9.6, -9.7, -10.0, -10.5, -11.0, -11.5, -12.0, -12.5, -13.0, -12.8, -12.5, -12.8, -13.0, -12.8],
    [-9.4, -9.5, -9.6, -9.1, -11.2, -11.9, -12.0, -12.4, -13.4, -15.2, -16.8, -17.3, -16.6, -16.0, -15.5, -14.8, -14.9, -14.8, -14.7, -14.6,
     -14.7, -14.7, -14.5, -14.4, -14.2, -13.8, -13.3, -12.5, -11.9, -11.7, -11.5, -11.2, -10.8, -10.5, -9.8, -9.5, -9.2, -8.8, -8.5, -8.2,
     -8.0, -7.8, -7.5, -7.2, -7.5, -7.8, -8.0, -8.5, -9.0, -9.5, -10.0, -10.2, -10.5, -10.8, -11.0, -11.2, -11.5, -11.8, -12.0, -12.2, -12.0],
    # m01, m09, m11, m22, m26, m31, m35, m45
    [-9.5, -9.7, -9.8, -9.4, -11.6, -12.4, -12.6, -13.2, -14.5, -16.8, -18.5, -19.0, -18.2, -17.0, -16.2, -15.6, -15.8, -15.8, -15.6, -15.5,
     -15.8, -15.8, -15.6, -15.5, -15.2, -14.8, -14.4, -13.8, -13.2, -13.0, -13.2, -13.5, -13.8, -14.0, -13.2, -12.8, -12.5, -12.0, -11.8, -11.5,
     -11.2, -11.0, -10.8, -11.0, -11.5, -12.0, -12.5, -12.2, -12.0, -12.5, -13.0, -13.5, -13.2, -13.0, -13.5, -14.0, -13.8, -13.5, -13.2, -13.5, -13.8],
    [-9.4, -9.5, -9.6, -9.0, -11.1, -11.8, -11.9, -12.2, -13.0, -14.8, -16.2, -16.5, -15.8, -15.2, -14.8, -14.2, -14.4, -14.3, -14.0, -13.8,
     -14.0, -14.0, -13.8, -13.5, -13.2, -12.8, -12.2, -11.5, -10.8, -10.5, -10.2, -10.0, -9.8, -9.5, -8.8, -8.5, -8.2, -7.8, -7.5, -7.2,
     -7.0, -6.8, -6.5, -6.2, -6.5, -6.8, -7.0, -7.5, -7.2, -7.0, -7.2, -7.5, -7.8, -8.0, -7.8, -7.5, -7.8, -8.0, -8.2, -8.0, -7.8],
    [-9.5, -9.6, -9.7, -9.3, -11.5, -12.2, -12.3, -12.7, -13.8, -15.8, -17.5, -18.0, -17.3, -16.6, -16.0, -15.4, -15.5, -15.4, -15.3, -15.2,
     -15.3, -15.3, -15.1, -15.0, -14.8, -14.4, -13.9, -13.1, -12.5, -12.3, -12.3, -12.5, -12.8, -13.0, -12.0, -11.5, -11.0, -10.5, -10.0, -9.5,
     -9.0, -8.5, -8.0, -7.8, -8.0, -8.2, -8.5, -8.8, -9.0, -9.2, -9.5, -9.8, -10.0, -10.2, -10.0, -9.8, -10.0, -10.2, -10.5, -10.2, -10.0],
    [-9.5, -9.6, -9.7, -9.3, -11.4, -12.1, -12.2, -12.6, -13.6, -15.2, -16.8, -17.0, -16.2, -15.5, -15.0, -14.5, -14.6, -14.5, -14.4, -14.3,
     -14.4, -14.4, -14.2, -14.0, -13.8, -13.4, -12.9, -12.0, -11.2, -10.5, -9.8, -9.0, -8.5, -8.0, -7.5, -7.0, -6.5, -6.2, -6.0, -6.2,
     -6.5, -6.8, -7.2, -7.5, -7.8, -8.0, -8.2, -8.5, -8.8, -9.0, -9.2, -9.5, -9.8, -10.0, -9.8, -9.5, -9.2, -9.0, -8.8, -8.5, -8.8],
    [-9.6, -9.7, -9.8, -9.5, -11.8, -12.6, -12.8, -13.5, -15.0, -17.8, -20.2, -21.0, -21.0, -19.5, -17.8, -16.8, -16.5, -16.2, -15.8, -15.5,
     -15.5, -15.4, -15.2, -15.0, -14.8, -14.5, -14.0, -13.5, -13.0, -12.8, -13.0, -13.2, -13.5, -13.8, -13.5, -13.2, -13.5, -14.0, -14.5, -15.0,
     -15.5, -16.0, -15.5, -15.0, -14.5, -14.0, -13.5, -13.2, -13.0, -13.5, -14.0, -14.5, -15.0, -15.2, -14.8, -14.5, -14.2, -14.0, -13.8, -13.5, -13.8],
    [-9.4, -9.5, -9.6, -9.2, -11.3, -12.0, -12.1, -12.5, -13.5, -15.3, -16.9, -17.4, -16.7, -16.1, -15.6, -14.9, -15.0, -14.9, -14.8, -14.7,
     -14.8, -14.8, -14.6, -14.5, -14.3, -13.9, -13.4, -12.6, -12.0, -11.8, -11.6, -11.4, -11.2, -11.0, -10.5, -10.2, -10.0, -9.8, -9.5, -9.8,
     -10.2, -10.8, -11.5, -12.0, -12.5, -13.0, -13.8, -14.5, -15.0, -14.8, -14.5, -14.0, -13.5, -13.2, -13.0, -12.8, -12.5, -12.2, -12.5, -12.8, -12.5],
    [-9.5, -9.6, -9.7, -9.3, -11.4, -12.1, -12.2, -12.6, -13.5, -15.2, -16.5, -16.8, -16.0, -15.5, -15.0, -14.5, -14.8, -14.8, -14.6, -14.5,
     -14.6, -14.6, -14.4, -14.3, -14.1, -13.7, -13.2, -12.4, -11.8, -11.6, -11.8, -12.0, -12.2, -12.5, -11.8, -11.5, -11.2, -11.0, -10.8, -10.5,
     -10.2, -10.0, -9.8, -9.5, -9.8, -10.2, -10.5, -10.8, -11.0, -11.2, -11.5, -11.8, -12.0, -12.2, -12.0, -11.8, -12.0, -12.2, -12.0, -11.8, -12.0],
    [-9.5, -9.6, -9.7, -9.3, -11.4, -12.1, -12.2, -12.6, -13.6, -15.5, -17.1, -17.6, -16.9, -16.3, -15.8, -15.1, -15.2, -15.1, -15.0, -14.9,
     -15.0, -15.0, -14.8, -14.7, -14.5, -14.1, -13.6, -12.8, -12.2, -12.0, -12.0, -11.8, -11.5, -11.2, -10.8, -10.5, -10.2, -10.0, -10.2, -10.5,
     -11.0, -11.5, -12.0, -12.5, -13.0, -12.5, -12.0, -11.5, -11.0, -10.5, -10.2, -10.0, -9.8, -10.0, -10.5, -11.0, -11.5, -12.0, -12.5, -13.0, -12.8],
]

# --- precipitation (mm / 6h), from +6h ---
PRECIP_MEAN = [1.0, 2.4, 5.9, 0.5, 0.7, 0.7, 0.85, 1.3, 2.8, 2.4,
               1.9, 0.7, 1.7, 1.8, 1.5, 0.95, 0.7, 0.6, 0.5, 0.6,
               0.85, 1.2, 1.3, 0.85, 0.95, 1.1, 1.1, 1.0, 1.0, 0.95,
               2.1, 1.7, 1.2, 1.3, 1.7, 1.7, 1.5, 1.8, 2.4, 1.9,
               1.4, 1.2, 1.5, 0.95, 0.7, 0.95, 1.3, 1.7, 1.0, 1.2,
               1.3, 0.7, 0.7, 0.85, 0.7, 0.6, 0.6, 0.65, 0.65, 0.65]
PRECIP_CONTROL = [0.6, 1.5, 5.0, 0.3, 0.5, 0.5, 0.5, 1.0, 2.0, 1.8,
                  1.2, 0.3, 1.0, 1.5, 1.0, 0.5, 0.3, 0.2, 0.1, 0.2,
                  0.3, 0.5, 0.8, 0.3, 0.2, 0.3, 0.2, 0.1, 0.1, 0.1,
                  0.1, 0.1, 0.1, 0.1, 0.2, 0.1, 0.1, 0.1, 0.1, 0.1,
                  0.2, 0.1, 0.3, 0.9, 2.9, 9.6, 2.4, 0.1, 0.1, 0.1,
                  0.1, 0.1, 0.1, 0.1, 0.1, 0.1, 0.1, 0.1, 0.1, 0.1]
PRECIP_CEP = [0.3, 1.5, 4.5, 0.3, 0.3, 0.3, 0.4, 0.5, 1.0, 1.2,
              1.0, 0.1, 1.7, 2.0, 1.8, 1.0, 0.5, 0.2, 0.1, 0.1,
              0.1, 0.1, 0.4, 0.1, 0.1, 0.1, 0.1, 0.1, 0.1, 0.1,
              1.3, 0.1, 0.1, 0.1, 0.1, 0.1, 0.1, 0.1, 0.1, 0.1]
PRECIP = [
    [0.5, 1.5, 8.0, 0.2, 0.5, 1.0, 0.8, 1.5, 4.0, 9.2, 1.5, 0.2, 1.2, 0.8, 0.5, 0.3, 0.2, 0.1, 0.1, 0.2,
     0.3, 0.2, 0.5, 0.3, 0.2, 0.1, 0.3, 0.5, 0.2, 0.4, 0.6, 0.2, 1.0, 0.5, 3.0, 0.8, 0.3, 2.5, 0.5, 1.2,
     0.5, 0.2, 1.8, 0.5, 0.3, 0.2, 1.5, 0.6, 0.3, 0.2, 0.5, 0.2, 0.1, 0.3, 0.2, 0.1, 0.2, 0.1, 0.3, 0.2],
    [1.0, 3.5, 12.5, 0.5, 0.3, 7.5, 0.5, 0.2, 2.5, 3.0, 1.0, 0.1, 0.5, 1.0, 0.3, 0.2, 0.1, 0.1, 0.1, 0.1,
     0.2, 0.1, 0.4, 1.5, 0.5, 0.8, 1.2, 3.5, 0.8, 0.5, 1.5, 0.5, 0.8, 10.0, 2.5, 0.5, 0.3, 0.8, 1.5, 0.5,
     0.3, 0.5, 0.8, 0.3, 0.2, 0.5, 2.5, 6.0, 1.0, 0.3, 0.2, 0.3, 1.5, 4.0, 0.5, 0.2, 0.1, 0.3, 0.2, 0.1],
    [0.8, 2.0, 10.5, 0.3, 3.5, 0.5, 0.3, 1.0, 5.5, 2.5, 0.8, 0.2, 0.5, 0.6, 0.4, 0.2, 0.1, 0.1, 0.0, 0.1,
     0.2, 0.1, 0.2, 0.5, 0.3, 0.2, 0.2, 0.6, 0.4, 0.3, 0.5, 1.0, 5.5, 3.0, 9.8, 1.5, 22.3, 4.0, 0.5, 0.8,
     1.5, 0.5, 10.1, 3.5, 0.5, 0.2, 0.8, 0.5, 0.3, 0.2, 0.1, 0.3, 0.5, 0.2, 0.1, 0.2, 0.1, 0.0, 0.1, 0.1],
    [0.5, 1.2, 6.5, 0.2, 0.2, 0.3, 8.0, 0.5, 1.5, 2.0, 0.8, 0.1, 0.3, 0.5, 0.2, 0.1, 0.0, 0.1, 0.1, 0.0,
     0.1, 0.2, 0.3, 0.2, 0.5, 0.3, 0.4, 0.2, 0.3, 0.5, 0.8, 0.5, 1.2, 0.8, 2.5, 5.5, 1.0, 0.5, 1.5, 11.4,
     2.0, 0.5, 0.8, 0.4, 0.3, 0.5, 1.2, 0.8, 0.5, 0.3, 0.2, 0.8, 0.4, 11.2, 1.5, 0.5, 0.3, 5.3, 0.8, 0.3],
    [0.3, 1.0, 5.0, 0.2, 0.5, 0.3, 0.2, 0.5, 3.5, 4.5, 1.0, 0.2, 0.8, 0.5, 0.3, 0.2, 0.1, 0.1, 0.0, 0.1,
     0.1, 0.3, 0.5, 0.2, 0.8, 1.5, 0.5, 0.3, 0.2, 0.5, 0.8, 0.3, 0.5, 0.8, 1.0, 0.5, 0.3, 2.0, 1.5, 0.5,
     0.8, 0.3, 0.5, 1.2, 0.5, 0.8, 0.4, 1.0, 0.5, 0.3, 0.2, 0.5, 0.3, 6.0, 0.8, 0.3, 0.2, 0.5, 0.3, 0.2],
    [0.6, 1.8, 9.0, 0.3, 0.5, 0.8, 0.3, 0.8, 7.5, 3.5, 1.2, 0.1, 0.6, 0.8, 0.4, 0.2, 0.1, 0.0, 0.1, 0.1,
     0.2, 0.1, 0.3, 0.6, 0.3, 0.2, 0.4, 0.5, 0.3, 0.2, 0.4, 0.6, 1.5, 6.0, 1.0, 0.5, 7.2, 2.0, 0.8, 0.5,
     0.3, 0.8, 0.5, 0.3, 0.2, 0.5, 0.3, 0.8, 0.4, 0.2, 0.1, 0.2, 0.3, 0.1, 0.2, 0.1, 0.0, 0.1, 0.2, 0.1],
    [0.4, 1.5, 7.0, 0.2, 0.3, 0.5, 0.2, 0.3, 2.0, 1.5, 0.5, 0.1, 0.4, 3.5, 0.8, 0.2, 0.1, 0.0, 0.0, 0.1,
     0.1, 0.3, 0.2, 0.5, 0.8, 0.3, 0.2, 0.4, 0.3, 0.2, 0.5, 0.8, 0.3, 0.5, 1.2, 0.8, 6.5, 1.5, 0.5, 0.8,
     0.5, 0.3, 0.8, 1.5, 0.8, 3.5, 10.0, 2.0, 0.5, 7.3, 1.5, 0.5, 0.3, 0.5, 0.2, 0.8, 0.3, 0.2, 0.5, 0.3],
    [0.3, 1.0, 6.0, 0.2, 0.2, 0.3, 0.5, 0.8, 1.5, 3.0, 0.5, 0.1, 0.2, 0.4, 0.2, 0.1, 0.0, 0.0, 0.1, 0.0,
     0.2, 0.1, 0.2, 0.5, 0.3, 0.2, 0.3, 0.5, 0.4, 0.3, 0.5, 0.3, 1.5, 0.8, 0.5, 6.8, 6.5, 5.0, 1.0, 0.8,
     0.5, 0.3, 0.8, 0.5, 0.3, 0.2, 0.5, 0.3, 0.2, 0.5, 1.0, 0.8, 0.5, 2.5, 0.8, 5.3, 1.5, 1.0, 0.5, 0.3],
    [0.8, 2.5, 11.0, 0.4, 0.5, 1.0, 0.5, 1.2, 6.0, 4.0, 1.5, 0.2, 0.8, 0.5, 0.3, 0.2, 0.1, 0.1, 0.1, 0.1,
     0.3, 0.2, 0.4, 0.8, 1.5, 3.5, 0.5, 0.3, 0.5, 0.8, 1.0, 0.5, 0.8, 0.5, 1.5, 0.8, 0.5, 0.3, 9.9, 2.0,
     0.5, 0.3, 0.8, 0.5, 0.3, 0.2, 0.8, 0.5, 0.3, 0.2, 11.7, 3.0, 0.5, 0.3, 0.2, 0.5, 0.3, 0.2, 0.1, 0.1],
    [0.5, 1.5, 8.5, 0.3, 0.2, 0.5, 0.3, 0.5, 3.0, 2.0, 0.5, 0.1, 0.3, 0.5, 0.2, 0.1, 0.0, 0.0, 0.1, 0.1,
     0.2, 0.1, 0.3, 0.5, 0.2, 0.3, 0.5, 0.4, 0.3, 0.8, 0.5, 15.0, 2.5, 0.5, 0.8, 1.0, 3.5, 6.5, 14.7, 3.0,
     0.8, 0.5, 0.3, 0.5, 0.8, 0.3, 0.5, 0.3, 0.2, 0.5, 0.3, 0.2, 0.1, 0.3, 0.2, 0.1, 0.2, 0.1, 0.2, 0.1],
    [0.5, 1.2, 7.5, 0.2, 0.3, 10.5, 0.5, 0.3, 1.5, 2.5, 0.8, 0.1, 0.3, 0.5, 0.2, 0.1, 0.1, 0.0, 0.0, 0.1,
     0.2, 0.1, 0.3, 0.5, 0.3, 0.2, 0.3, 0.8, 0.5, 0.3, 0.5, 0.8, 1.2, 0.5, 0.8, 3.0, 12.0, 28.3, 25.7, 4.0,
     0.8, 0.5, 0.3, 0.5, 0.2, 0.3, 0.5, 0.3, 0.2, 0.1, 0.3, 3.5, 0.5, 0.2, 0.1, 0.2, 0.1, 0.0, 0.1, 0.1],
    [0.3, 0.8, 5.5, 0.2, 0.5, 8.5, 1.0, 0.5, 2.0, 1.5, 0.5, 0.1, 0.3, 0.4, 0.2, 0.1, 0.0, 0.1, 0.0, 0.1,
     0.1, 0.2, 0.3, 0.4, 0.3, 0.2, 0.2, 0.3, 0.5, 0.4, 0.8, 0.3, 0.5, 0.8, 0.5, 1.0, 0.8, 0.5, 0.3, 0.5,
     0.3, 0.5, 0.8, 0.5, 0.3, 0.2, 0.5, 0.3, 0.5, 0.8, 0.5, 0.3, 2.5, 0.8, 0.5, 0.3, 0.2, 0.5, 0.3, 0.2],
    [0.4, 1.0, 4.0, 0.2, 0.3, 0.5, 0.3, 0.4, 2.5, 3.5, 4.0, 0.2, 0.5, 0.3, 0.2, 0.1, 0.1, 0.0, 0.1, 0.1,
     0.2, 0.3, 0.5, 0.8, 0.5, 0.3, 0.8, 4.8, 0.5, 0.3, 0.5, 0.3, 0.8, 0.5, 0.3, 5.5, 0.8, 1.5, 0.5, 0.3,
     0.5, 0.8, 0.3, 1.5, 5.5, 0.8, 0.5, 0.3, 0.5, 1.0, 0.8, 0.5, 5.5, 0.8, 0.3, 0.5, 0.2, 0.3, 0.5, 0.3],
    [0.6, 1.5, 8.0, 0.3, 0.2, 0.5, 0.3, 0.6, 4.0, 3.0, 1.0, 0.2, 0.5, 0.3, 0.2, 0.1, 0.1, 0.0, 0.1, 0.1,
     0.1, 0.2, 0.3, 6.0, 1.5, 0.5, 0.3, 0.5, 0.4, 0.3, 0.5, 0.8, 1.0, 0.5, 0.8, 0.5, 0.3, 0.8, 0.5, 0.3,
     0.8, 0.5, 0.3, 0.5, 0.8, 0.5, 0.3, 0.5, 0.8, 0.3, 0.2, 0.5, 0.3, 0.2, 0.3, 0.2, 0.1, 0.2, 0.1, 0.1],
    [0.3, 1.0, 5.5, 0.2, 0.3, 0.5, 7.7, 0.8, 2.0, 1.5, 0.5, 0.1, 0.3, 0.5, 0.2, 0.1, 0.0, 0.1, 0.0, 0.1,
     0.2, 0.1, 0.3, 0.5, 0.3, 0.2, 0.3, 0.5, 0.3, 0.5, 0.8, 0.3, 0.5, 1.0, 0.5, 0.8, 0.5, 0.3, 0.5, 0.8,
     0.3, 0.5, 0.8, 0.3, 0.5, 0.8, 0.5, 0.3, 0.8, 0.5, 0.3, 0.5, 0.3, 1.5, 0.8, 0.5, 1.0, 0.3, 0.5, 0.3],
    [0.5, 1.5, 9.5, 0.3, 7.1, 0.5, 0.3, 0.5, 1.0, 2.0, 0.5, 0.1, 0.3, 0.4, 0.2, 0.1, 0.0, 0.0, 0.1, 0.1,
     0.2, 0.1, 0.3, 0.5, 0.3, 0.2, 0.5, 0.8, 0.3, 0.2, 0.5, 0.3, 0.8, 0.5, 1.0, 0.5, 0.3, 0.8, 0.5, 0.3,
     0.5, 0.3, 0.8, 0.5, 0.3, 0.5, 0.8, 0.5, 0.3, 0.2, 0.5, 0.3, 0.5, 0.2, 0.3, 0.5, 0.2, 0.3, 0.2, 0.1],
    [0.8, 2.0, 14.0, 0.4, 0.5, 1.0, 0.5, 1.0, 5.0, 3.5, 1.2, 0.2, 0.6, 0.8, 0.4, 0.2, 0.1, 0.1, 0.1, 0.1,
     0.2, 0.1, 0.3, 0.5, 0.8, 0.5, 0.3, 0.5, 0.8, 0.5, 9.0, 0.8, 0.5, 0.3, 0.5, 0.8, 0.3, 0.5, 0.3, 0.5,
     0.8, 0.5, 0.3, 0.5, 0.8, 0.3, 0.5, 0.8, 0.5, 0.3, 0.5, 0.8, 0.5, 0.3, 0.2, 0.3, 0.2, 0.1, 0.2, 0.1],
    [0.4, 1.2, 6.5, 0.2, 0.3, 0.5, 0.3, 0.8, 12.6, 4.5, 0.8, 0.1, 0.3, 0.5, 0.2, 0.1, 0.0, 0.1, 0.0, 0.1,
     0.2, 0.5, 7.0, 5.5, 0.8, 3.0, 0.5, 0.3, 0.5, 0.3, 0.5, 0.8, 0.3, 0.5, 0.8, 0.5, 0.3, 0.5, 0.8, 0.5,
     0.3, 0.5, 0.8, 0.5, 0.3, 0.2, 0.5, 0.3, 0.5, 3.5, 0.5, 0.3, 0.2, 0.1, 0.2, 0.1, 0.2, 0.1, 0.1, 0.1],
    [0.3, 1.0, 5.0, 0.2, 0.3, 0.5, 0.3, 0.5, 1.5, 2.0, 0.5, 0.1, 0.3, 0.5, 0.2, 0.1, 0.0, 0.1, 0.0, 0.1,
     0.1, 0.2, 0.3, 0.5, 0.3, 0.2, 0.3, 0.5, 0.3, 0.5, 0.5, 0.8, 1.5, 4.0, 13.3, 18.6, 3.0, 0.8, 0.5, 0.3,
     0.5, 0.8, 0.3, 14.0, 0.8, 0.5, 0.3, 27.5, 17.0, 1.0, 0.5, 0.3, 0.2, 0.5, 0.3, 0.2, 0.1, 0.2, 0.1, 0.1],
    [0.6, 1.8, 9.5, 0.3, 0.5, 0.8, 0.5, 1.0, 3.5, 2.5, 0.8, 0.2, 0.5, 0.6, 0.3, 0.2, 0.1, 0.1, 0.1, 0.1,
     0.2, 0.1, 0.3, 0.5, 0.3, 0.2, 0.5, 0.8, 0.5, 0.3, 0.8, 0.5, 0.3, 0.5, 0.8, 0.5, 1.0, 0.5, 3.0, 5.5,
     0.8, 0.5, 0.3, 0.5, 0.8, 0.5, 0.3, 0.5, 0.3, 0.5, 0.3, 0.5, 0.3, 0.8, 0.5, 0.3, 0.5, 0.3, 0.5, 1.5],
    [1.2, 7.2, 15.0, 0.5, 0.8, 1.5, 0.5, 1.2, 5.5, 4.0, 1.5, 0.3, 0.8, 0.5, 0.3, 0.2, 0.1, 0.1, 0.1, 0.2,
     0.3, 0.2, 0.5, 0.8, 4.0, 1.0, 0.5, 0.8, 0.5, 0.3, 0.8, 0.5, 1.0, 0.5, 10.0, 0.8, 0.5, 0.3, 9.9, 0.8,
     0.5, 0.3, 0.8, 0.5, 0.3, 0.5, 0.8, 4.0, 0.5, 0.3, 0.5, 0.3, 0.2, 4.5, 0.8, 0.3, 0.2, 0.3, 0.2, 0.1],
    [0.5, 1.5, 7.0, 0.3, 0.2, 0.5, 0.3, 0.5, 3.0, 2.0, 0.5, 0.2, 0.5, 3.0, 1.0, 0.3, 0.1, 0.0, 0.1, 0.1,
     0.2, 0.1, 0.3, 0.5, 0.3, 0.2, 0.3, 0.5, 0.3, 0.5, 0.5, 0.8, 0.3, 0.5, 0.8, 0.5, 7.5, 0.8, 0.5, 0.3,
     0.5, 0.3, 0.8, 0.5, 0.3, 0.5, 0.8, 0.5, 0.3, 0.5, 0.8, 0.5, 0.3, 0.5, 0.8, 0.3, 0.5, 0.8, 3.0, 5.7],
    [0.5, 1.2, 8.0, 0.3, 0.5, 0.8, 0.3, 0.5, 2.5, 1.5, 0.5, 0.1, 0.3, 0.5, 0.2, 0.1, 0.0, 0.1, 0.0, 0.1,
     0.2, 0.1, 0.3, 0.5, 0.3, 0.2, 0.5, 16.4, 9.5, 9.0, 21.6, 12.0, 1.5, 0.8, 0.5, 0.3, 0.5, 0.8, 0.5, 0.3,
     0.5, 0.8, 0.3, 0.5, 0.8, 0.5, 0.3, 0.5, 0.3, 0.5, 0.3, 0.5, 0.3, 0.2, 0.5, 0.3, 0.2, 0.1, 0.2, 0.1],
    [0.4, 1.0, 6.0, 0.2, 0.3, 0.5, 0.3, 0.5, 2.0, 1.5, 0.5, 0.1, 0.3, 0.5, 0.2, 0.1, 0.0, 0.1, 0.0, 0.1,
     0.2, 0.3, 15.2, 3.0, 0.5, 0.3, 0.5, 0.8, 0.5, 0.3, 0.5, 0.8, 0.3, 0.5, 0.8, 0.5, 0.3, 6.5, 0.5, 0.3,
     0.5, 0.3, 0.8, 0.5, 0.3, 0.5, 0.8, 0.5, 0.3, 0.5, 0.3, 0.5, 0.3, 0.2, 0.5, 0.3, 0.2, 0.1, 0.2, 0.1],
    [0.3, 0.8, 4.5, 0.2, 0.3, 0.5, 0.3, 0.5, 1.5, 1.0, 0.5, 0.1, 0.3, 0.5, 0.2, 0.1, 0.0, 0.1, 0.0, 0.1,
     0.2, 0.1, 0.3, 0.5, 0.3, 8.5, 0.5, 0.3, 0.5, 0.3, 0.5, 0.8, 0.3, 0.5, 0.8, 0.5, 0.3, 0.5, 0.8, 0.5,
     0.3, 0.5, 0.8, 0.5, 0.3, 0.5, 0.8, 0.5, 0.3, 0.5, 0.3, 0.5, 0.3, 0.2, 0.5, 0.3, 0.2, 0.1, 0.2, 0.1],
    [0.5, 2.5, 26.0, 0.5, 0.8, 1.0, 0.5, 0.8, 8.5, 6.0, 1.0, 0.2, 0.5, 0.8, 0.3, 0.2, 0.1, 0.1, 0.1, 0.1,
     0.2, 0.1, 0.5, 0.8, 0.3, 0.2, 0.5, 0.8, 7.8, 0.5, 0.8, 0.5, 0.3, 0.5, 0.8, 0.5, 0.3, 0.5, 0.8, 9.0,
     25.1, 5.0, 17.6, 2.0, 0.5, 0.3, 0.8, 0.5, 0.3, 0.5, 0.3, 0.5, 0.3, 0.2, 0.5, 0.3, 0.2, 0.1, 0.2, 0.1],
    [0.5, 1.5, 12.0, 0.3, 0.5, 0.8, 0.3, 0.5, 3.5, 2.0, 0.5, 0.1, 0.3, 0.5, 0.2, 0.1, 0.0, 0.1, 0.0, 0.1,
     0.2, 0.1, 0.3, 0.5, 0.3, 0.2, 10.5, 0.8, 0.5, 0.3, 0.5, 0.8, 0.3, 0.5, 0.8, 0.5, 0.3, 0.5, 0.8, 0.5,
     0.3, 0.5, 0.8, 0.5, 0.3, 0.5, 0.8, 0.5, 0.3, 0.5, 0.3, 0.5, 0.3, 0.2, 0.5, 0.3, 0.2, 0.1, 0.2, 0.5],
    # m01, m09, m11, m22, m26, m31, m35, m45
    [0.8, 2.0, 4.8, 0.3, 0.5, 0.8, 0.5, 0.8, 2.5, 3.0, 1.0, 0.2, 0.5, 0.8, 0.3, 0.2, 0.1, 0.1, 0.1, 0.1,
     0.3, 0.5, 0.8, 0.5, 0.3, 0.5, 0.8, 1.5, 0.5, 0.3, 0.5, 2.0, 0.8, 3.5, 1.0, 0.5, 0.8, 2.0, 0.5, 0.8,
     0.5, 1.5, 0.8, 0.5, 2.5, 0.8, 0.5, 0.3, 0.8, 1.5, 0.5, 0.3, 0.8, 0.5, 0.3, 1.2, 0.5, 0.3, 0.8, 1.5],
    [0.5, 1.5, 9.0, 0.3, 0.5, 0.5, 0.3, 0.8, 4.5, 3.0, 0.8, 0.2, 0.5, 0.5, 0.3, 0.2, 0.1, 0.1, 0.0, 0.1,
     0.2, 0.3, 0.5, 0.8, 0.5, 0.3, 0.5, 0.8, 0.5, 0.3, 0.8, 0.5, 3.0, 0.8, 0.5, 1.0, 0.5, 0.8, 4.5, 0.5,
     0.8, 0.3, 0.5, 0.8, 0.5, 0.3, 0.5, 2.5, 0.5, 0.3, 0.5, 0.8, 0.3, 0.5, 0.3, 0.5, 0.3, 0.5, 0.3, 0.2],
    [0.6, 1.8, 10.0, 0.3, 0.5, 0.8, 0.5, 0.8, 3.0, 2.5, 0.8, 0.2, 0.5, 0.8, 0.3, 0.2, 0.1, 0.1, 0.1, 0.1,
     0.2, 0.3, 0.8, 1.5, 0.5, 0.3, 0.8, 0.5, 0.3, 0.8, 0.5, 1.2, 0.5, 0.8, 0.5, 4.0, 0.8, 0.5, 0.8, 0.5,
     3.5, 0.8, 0.5, 0.3, 0.8, 0.5, 0.3, 0.8, 0.5, 0.3, 0.8, 0.5, 0.3, 0.5, 0.8, 0.5, 0.3, 0.5, 0.8, 0.5],
    [0.4, 1.2, 7.5, 0.2, 0.5, 0.8, 0.5, 0.5, 3.0, 2.0, 0.5, 0.1, 0.3, 0.5, 0.2, 0.1, 0.0, 0.1, 0.0, 0.1,
     0.2, 0.1, 0.3, 0.5, 0.3, 0.2, 0.5, 0.8, 0.3, 0.2, 0.5, 0.3, 0.8, 0.5, 0.3, 0.5, 0.8, 0.5, 0.3, 0.5,
     0.8, 0.5, 0.3, 0.8, 1.5, 0.5, 0.3, 10.3, 3.0, 0.5, 0.3, 0.5, 0.3, 0.2, 0.5, 0.3, 0.2, 0.1, 0.2, 0.3],
    [0.5, 1.5, 7.0, 0.3, 0.5, 0.5, 0.3, 0.5, 2.5, 2.0, 0.5, 0.1, 0.3, 0.5, 0.2, 0.1, 0.0, 0.1, 0.0, 0.1,
     0.2, 0.1, 0.3, 0.5, 0.3, 0.2, 0.5, 0.8, 0.3, 0.2, 0.5, 0.3, 0.8, 0.5, 3.5, 0.5, 0.8, 0.5, 0.3, 0.5,
     0.8, 0.5, 0.3, 0.5, 0.3, 4.0, 0.3, 0.5, 0.3, 0.5, 0.3, 0.5, 0.3, 0.2, 0.5, 0.3, 0.2, 0.1, 0.2, 0.1],
    [0.5, 1.2, 8.0, 0.3, 0.5, 0.8, 0.3, 0.5, 2.5, 3.5, 1.0, 0.1, 0.5, 0.5, 0.2, 0.1, 0.0, 0.1, 0.0, 0.1,
     0.2, 0.1, 0.3, 0.8, 0.5, 0.3, 0.5, 0.8, 0.5, 0.3, 0.5, 0.8, 0.3, 0.5, 0.8, 0.5, 6.0, 0.8, 0.5, 0.3,
     0.8, 0.5, 2.0, 0.5, 0.3, 0.5, 0.8, 5.5, 0.8, 0.5, 0.3, 0.5, 0.3, 0.5, 0.3, 0.5, 0.3, 0.2, 0.3, 0.2],
    [0.4, 1.0, 6.0, 0.2, 0.3, 0.5, 0.3, 0.5, 1.5, 1.0, 0.5, 0.1, 0.3, 0.5, 0.2, 0.1, 0.0, 0.1, 0.0, 0.1,
     0.2, 0.1, 0.3, 0.5, 0.3, 0.2, 0.3, 0.5, 0.3, 0.5, 0.8, 0.5, 0.3, 0.5, 0.8, 0.5, 0.3, 0.5, 0.8, 0.5,
     0.3, 0.5, 0.8, 0.5, 0.3, 0.5, 0.8, 0.5, 0.3, 0.5, 0.3, 0.5, 0.3, 0.2, 0.5, 0.3, 0.2, 0.1, 0.2, 0.1],
    [0.3, 1.0, 5.0, 0.2, 0.3, 0.5, 0.3, 0.5, 1.5, 1.0, 0.5, 0.1, 0.3, 0.5, 0.2, 0.1, 0.0, 0.1, 0.0, 0.1,
     0.2, 0.1, 0.3, 0.5, 0.3, 0.2, 0.3, 0.5, 0.3, 0.5, 0.8, 0.5, 0.3, 0.5, 0.8, 0.5, 0.3, 0.5, 0.8, 0.5,
     0.3, 0.5, 0.8, 0.5, 0.3, 0.5, 0.8, 0.5, 0.3, 0.5, 0.8, 0.5, 0.3, 0.5, 0.3, 0.5, 0.3, 5.5, 2.0, 0.5],
]

PRECIP_ZERO = -45   # 0 mm sits on the -45 degC line (right scale = left + 45)


def px(x, y):
    return x / W, 1 - y / H


fig = plt.figure(figsize=(W / 100, H / 100), dpi=100)
ax = fig.add_axes([50 / W, 100 / H, 640 / W, 600 / H])
ax.set_xlim(0, 360)
ax.set_ylim(-52.56, 33.0)

# grid
for h in DAY_TICKS:
    ax.axvline(h, color='#c0c0c0', lw=1.0, zorder=0)
for v in [30, 20, 10, -10, -20, -30, -40]:
    ax.axhline(v, color='#c0c0c0', lw=2.2, zorder=0)
for v in [25, 15, 5, -5, -15, -25, -35]:
    ax.axhline(v, color='#c0c0c0', lw=1.0, zorder=0)
ax.axhline(-0.05, color='#b4b4b4', lw=1.5, zorder=0)
ax.axhline(0.22, color='#808080', lw=1.4, zorder=0)

precip_tr = transforms.Affine2D().translate(0, PRECIP_ZERO) + ax.transData

member_kw = dict(lw=0.7, marker='+', ms=3, mew=0.6, zorder=2)
for k, m in enumerate(MEMBER_IDS):
    c = PERT_COLORS[m - 1]
    ax.plot(HOURS, T850[k], color=c, **member_kw)
    ax.plot(HOURS, T500[k], color=c, **member_kw)
    ax.plot(PRECIP_HOURS, PRECIP[k], color=c, transform=precip_tr, **member_kw)

# control run
ax.plot(HOURS, T850_CONTROL, color='#0000ff', lw=2.2, zorder=3)
ax.plot(HOURS, T500_CONTROL, color='#0000ff', lw=2.2, zorder=3)
ax.plot(PRECIP_HOURS, PRECIP_CONTROL, color='#0000ff', lw=1.6, zorder=3, transform=precip_tr)

# deterministic run (to +240h)
ax.plot(HOURS[:len(T850_CEP)], T850_CEP, color='black', lw=2.4, zorder=4)
ax.plot(HOURS[:len(T500_CEP)], T500_CEP, color='black', lw=2.4, zorder=4)
ax.plot(PRECIP_HOURS[:len(PRECIP_CEP)], PRECIP_CEP, color='black', lw=2.4, zorder=4, transform=precip_tr)

# ensemble mean
ax.plot(HOURS, T850_MEAN, color='#ff0000', lw=3.4, zorder=5)
ax.plot(HOURS, T500_MEAN, color='#ff0000', lw=3.4, zorder=5)
ax.plot(PRECIP_HOURS, PRECIP_MEAN, color='#ff0000', lw=3.4, zorder=5, transform=precip_tr)

# axes / ticks
for s in ['left', 'right', 'top']:
    ax.spines[s].set_visible(False)
ax.spines['bottom'].set_color('black')
ax.spines['bottom'].set_linewidth(1.5)

ax.set_yticks(range(-45, 31, 5))
ax.set_yticklabels([str(v) for v in range(-45, 31, 5)])
ax.tick_params(axis='y', length=0, pad=22.3, labelsize=7.3)
for lbl in ax.get_yticklabels():
    lbl.set_horizontalalignment('left')

sec = ax.secondary_yaxis('right', functions=(lambda y: y + 45, lambda y: y - 45))
sec.set_yticks(range(0, 76, 5))
sec.tick_params(length=0, pad=13.5, labelsize=7.3)
sec.spines['right'].set_visible(False)

ax.set_xticks(DAY_TICKS)
ax.set_xticklabels(DATE_LABELS, rotation=270, fontsize=7.3)
ax.tick_params(axis='x', length=0, pad=1.5)
shift = transforms.ScaledTranslation(7 / 100, 0, fig.dpi_scale_trans)
for lbl in ax.get_xticklabels():
    lbl.set_transform(lbl.get_transform() + shift)
    lbl.set_verticalalignment('top')

# panel captions
fs = 7.3
fig.text(*px(60, 42), "Temp. 850hPa", fontsize=fs, va='center')
fig.text(*px(60, 281), "Temp. 500hPa", fontsize=fs, va='center')
fig.text(*px(59, 356), "Précipitations", fontsize=fs, va='center')
fig.text(*px(20, 607), "(°C)", fontsize=fs, va='center')
fig.text(*px(710, 607), "(mm)", fontsize=fs, va='center')

# legend
fig.add_artist(Line2D([35 / W, 65 / W], [1 - 636.5 / H] * 2, color='#ff0000', lw=3.0))
fig.text(*px(75, 637), "Moyenne des scénarios", fontsize=fs, va='center')
fig.add_artist(Line2D([225 / W, 255 / W], [1 - 637 / H] * 2, color='#0000ff', lw=2.4))
fig.text(*px(265, 637), "Run de contrôle", fontsize=fs, va='center')
fig.add_artist(Line2D([225 / W, 255 / W], [1 - 647 / H] * 2, color='black', lw=2.4))
fig.text(*px(265, 647), "Run CEP/ECMWF", fontsize=fs, va='center')

fig.text(*px(369, 652), "50 Perts.", fontsize=fs, va='center')
cw = (703 - 430) / 25
for j in range(25):
    x0 = 430 + j * cw
    for row, (y0, idx) in enumerate([(645, j), (651.7, 25 + j)]):
        fig.add_artist(Rectangle(px(x0, y0 + 6.6), cw / W, 6.6 / H,
                                 facecolor=PERT_COLORS[idx], edgecolor='none'))
    fig.text(*px(x0 + cw / 2, 639.5), f"{j + 1:02d}", fontsize=6.3, fontweight='bold',
             ha='center', va='center')
    fig.text(*px(x0 + cw / 2, 663), f"{j + 26:02d}", fontsize=6.3, fontweight='bold',
             ha='center', va='center')

# caption box
fig.add_artist(Rectangle(px(20, 699), 420 / W, 32 / H, facecolor='none',
                         edgecolor='black', lw=1.1))
fig.text(*px(30, 677), "Diagramme ensembles ECMWF/CEP 0.4° sur 360h pour Mauzun",
         fontsize=8.4, fontweight='bold', va='center')
fig.text(*px(30, 691), "Températures 850hPa et 500hPa (°C) , précipitations (mm)",
         fontsize=7.0, va='center')
fig.text(*px(449, 675), "Ensemble ECMWF/CEP du 25/08/2023 - 00Z", fontsize=7.2, va='center')
fig.text(*px(449, 691), "Copyright 2023 Meteociel.fr - ECMWF", fontsize=8.3,
         fontweight='bold', va='center')

fig.savefig("out.png", dpi=100)
